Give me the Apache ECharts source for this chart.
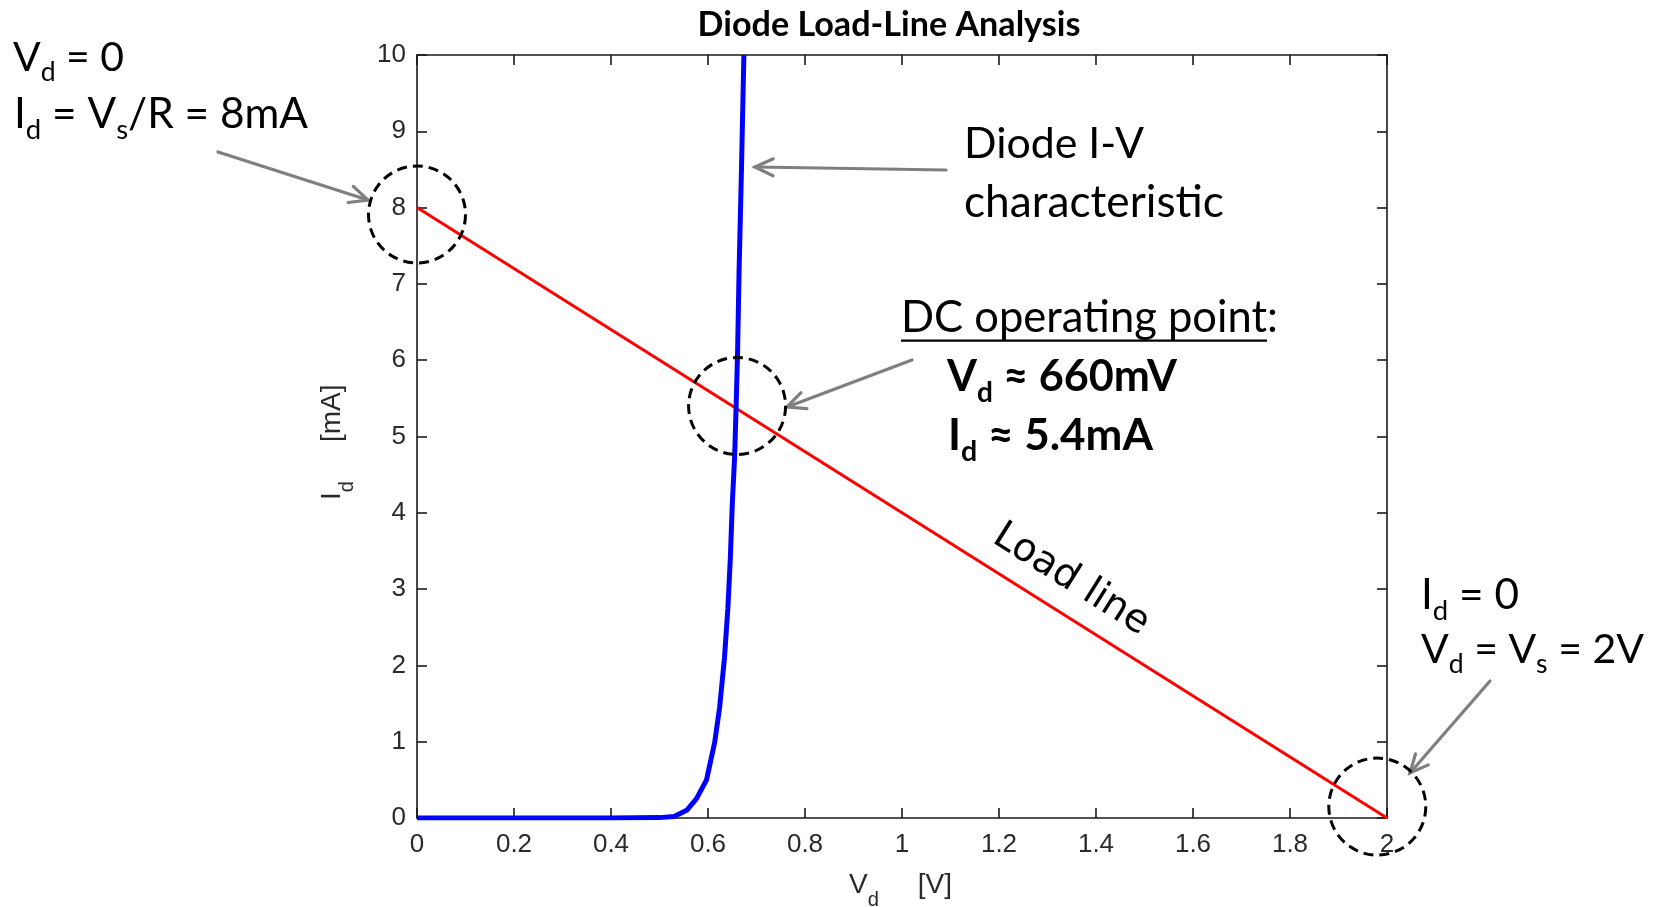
<!DOCTYPE html>
<html>
<head>
<meta charset="utf-8">
<script src="https://cdn.jsdelivr.net/npm/echarts@6/dist/echarts.min.js"></script>
<style>
  html, body { margin: 0; padding: 0; background: #ffffff; }
  #chart { width: 1663px; height: 907px; }
</style>
</head>
<body>
<div id="chart"></div>
<script>
// ---- Axis ticks ----
const xTicks = [0, 0.2, 0.4, 0.6, 0.8, 1, 1.2, 1.4, 1.6, 1.8, 2];
const yTicks = [0, 1, 2, 3, 4, 5, 6, 7, 8, 9, 10];

// ---- Diode I-V characteristic (V in volts, I in mA) ----
const diodeV = [0, 0.1, 0.2, 0.3, 0.4, 0.5, 0.53, 0.556, 0.576, 0.597, 0.614, 0.624,
                0.634, 0.641, 0.646, 0.650, 0.655, 0.658, 0.661, 0.664, 0.669, 0.674];
const diodeI = [0, 0, 0, 0, 0, 0.005, 0.02, 0.1, 0.25, 0.5, 1.0, 1.45,
                2.1, 2.75, 3.4, 4.1, 4.75, 5.4, 6.1, 7.15, 8.5, 10];

// ---- Load line: Vs = 2 V, Vs/R = 8 mA ----
const loadV = [0, 2];
const loadI = [8, 0];

// ---- Circled points (V, mA) ----
const markV = [0, 0.66, 1.98];
const markI = [7.91, 5.4, 0.15];

// ---- Layout / style ----
const GRID = { left: 417, top: 55, right: 276, bottom: 89 };
const AXIS_COLOR = '#1a1a1a';
const TICK_FONT = 'Liberation Sans';
const NOTE_FONT = 'Lato';
const GRAY = '#7f7f7f';

const chart = echarts.init(document.getElementById('chart'), null, { renderer: 'canvas' });

function fmtTick(v) { return String(+v.toFixed(1)); }

function valueAxis(ticks, position, showLabels, labelMargin) {
  return {
    type: 'value',
    position: position,
    min: ticks[0],
    max: ticks[ticks.length - 1],
    interval: ticks[1] - ticks[0],
    axisLine: { show: true, onZero: false, lineStyle: { color: AXIS_COLOR, width: 1.6 } },
    axisTick: { show: true, inside: true, length: 10, lineStyle: { color: AXIS_COLOR, width: 1.6 } },
    axisLabel: {
      show: showLabels, margin: labelMargin, formatter: fmtTick,
      fontFamily: TICK_FONT, fontSize: 26, color: '#2a2a2a'
    },
    splitLine: { show: false },
    axisPointer: { show: false }
  };
}

const option = {
  animation: false,
  backgroundColor: '#ffffff',
  grid: Object.assign({ containLabel: false, outerBoundsMode: 'none' }, GRID),
  xAxis: [valueAxis(xTicks, 'bottom', true, 14), valueAxis(xTicks, 'top', false, 0)],
  yAxis: [valueAxis(yTicks, 'left', true, 11), valueAxis(yTicks, 'right', false, 0)],
  series: [
    {
      name: 'Load line', type: 'line', xAxisIndex: 0, yAxisIndex: 0,
      data: loadV.map((v, i) => [v, loadI[i]]),
      symbol: 'none', lineStyle: { color: '#ff0000', width: 3 }, z: 2
    },
    {
      name: 'Diode I-V', type: 'line', xAxisIndex: 0, yAxisIndex: 0,
      data: diodeV.map((v, i) => [v, diodeI[i]]),
      symbol: 'none', lineStyle: { color: '#0000ff', width: 5 }, z: 3
    }
  ]
};
chart.setOption(option);

// ---- Text helpers ----
const ctx = document.createElement('canvas').getContext('2d');
function fontStr(weight, size, family) { return weight + ' ' + size + 'px "' + family + '"'; }
function textWidth(str, font) { ctx.font = font; return ctx.measureText(str).width; }
// distance from canvas "middle" line down to the alphabetic baseline
function midToBase(font) {
  ctx.font = font;
  ctx.textBaseline = 'alphabetic';
  const a = ctx.measureText('H').actualBoundingBoxAscent;
  ctx.textBaseline = 'middle';
  const m = ctx.measureText('H').actualBoundingBoxAscent;
  ctx.textBaseline = 'alphabetic';
  return a - m;
}
function fitSize(str, weight, family, target) {
  return 100 * target / textWidth(str, fontStr(weight, 100, family));
}
// width of a line of segments at a given main size
function lineWidth(segs, o, size) {
  let w = 0;
  segs.forEach(function (s) {
    const sz = s[1] ? size * o.subScale : size;
    w += textWidth(s[0], fontStr(o.weight, sz, o.family));
  });
  return w;
}

// Lays out one line of text with optional subscripts; (x, y) is the start of the baseline.
function textLine(segs, x, y, o) {
  const rot = o.rot || 0;
  const ux = Math.cos(rot), uy = -Math.sin(rot);   // along the text
  const nx = Math.sin(rot), ny = Math.cos(rot);    // towards the text's bottom
  const els = [];
  let cur = 0;
  segs.forEach(function (s) {
    const sub = !!s[1];
    const size = sub ? o.size * o.subScale : o.size;
    const font = fontStr(o.weight, size, o.family);
    const w = textWidth(s[0], font);
    const shift = sub ? o.size * o.subShift : 0;
    const px = x + ux * cur + nx * shift;
    const py = y + uy * cur + ny * shift;
    els.push({
      type: 'text', x: px, y: py, rotation: rot, silent: true, z: 100,
      style: {
        text: s[0], x: 0, y: -midToBase(font),
        fontFamily: o.family, fontSize: size, fontWeight: o.weight,
        fill: o.color, align: 'left', verticalAlign: 'middle',
        textAlign: 'left', textVerticalAlign: 'middle'
      }
    });
    if (s[2] === 'u') {
      const uOff = o.size * 0.2;
      els.push({
        type: 'line', silent: true, z: 100,
        shape: { x1: px + nx * uOff, y1: py + ny * uOff,
                 x2: px + ux * w + nx * uOff, y2: py + uy * w + ny * uOff },
        style: { stroke: o.color, lineWidth: 2.2 }
      });
    }
    cur += w;
  });
  return els;
}

function arrow(from, to) {
  const ang = Math.atan2(to[1] - from[1], to[0] - from[0]);
  const len = 20, spread = 25 * Math.PI / 180;
  const a1 = [to[0] - len * Math.cos(ang - spread), to[1] - len * Math.sin(ang - spread)];
  const a2 = [to[0] - len * Math.cos(ang + spread), to[1] - len * Math.sin(ang + spread)];
  const st = { stroke: GRAY, lineWidth: 3.2, fill: null, lineCap: 'round', lineJoin: 'miter' };
  return [
    { type: 'polyline', silent: true, z: 90, shape: { points: [from, to] }, style: st },
    { type: 'polyline', silent: true, z: 90, shape: { points: [a1, to, a2] }, style: st }
  ];
}

const elements = [];

// Title
const titleSize = fitSize('Diode Load-Line Analysis', 'bold', NOTE_FONT, 383);
const titleFont = fontStr('bold', titleSize, NOTE_FONT);
elements.push({
  type: 'text', x: 889, y: 36, silent: true,
  style: {
    text: 'Diode Load-Line Analysis', x: 0, y: -midToBase(titleFont),
    fontFamily: NOTE_FONT, fontSize: titleSize, fontWeight: 'bold', fill: '#000',
    align: 'center', verticalAlign: 'middle', textAlign: 'center', textVerticalAlign: 'middle'
  }
});

// Axis names
const axisNameStyle = { family: TICK_FONT, size: 28, weight: 'normal', color: '#2a2a2a',
                        subScale: 0.72, subShift: 0.46 };
elements.push.apply(elements, textLine([['V'], ['d', 1], ['     [V]']], 849, 893, axisNameStyle));
elements.push.apply(elements, textLine([['I'], ['d', 1], ['     [mA]']], 340, 500,
  Object.assign({ rot: Math.PI / 2 }, axisNameStyle)));

// Annotations: each line is sized to its own width (w)
const reg = { family: NOTE_FONT, weight: 'normal', color: '#000', subScale: 0.65, subShift: 0.25 };
const bold = Object.assign({}, reg, { weight: 'bold' });
const notes = [
  { x: 13, y: 71, w: 111, st: reg, segs: [['V'], ['d', 1], [' = 0']] },
  { x: 14, y: 128, w: 294, st: reg, segs: [['I'], ['d', 1], [' = V'], ['s', 1], ['/R = 8mA']] },
  { x: 964, y: 158, w: 180, st: reg, segs: [['Diode I-V']] },
  { x: 964, y: 217, w: 260, st: reg, segs: [['characteristic']] },
  { x: 901, y: 332, w: 377, st: reg, segs: [['DC operating point', 0, 'u'], [':']] },
  { x: 947, y: 391, w: 230, st: bold, segs: [['V'], ['d', 1], [' \u2248 660mV']] },
  { x: 948, y: 450, w: 205, st: bold, segs: [['I'], ['d', 1], [' \u2248 5.4mA']] },
  { x: 1421, y: 609, w: 98, st: reg, segs: [['I'], ['d', 1], [' = 0']] },
  { x: 1421, y: 663, w: 223, st: reg, segs: [['V'], ['d', 1], [' = V'], ['s', 1], [' = 2V']] }
];
notes.forEach(function (n) {
  const size = 100 * n.w / lineWidth(n.segs, n.st, 100);
  const st = Object.assign({}, n.st, { size: size });
  elements.push.apply(elements, textLine(n.segs, n.x, n.y, st));
});

// "Load line" label, turned to follow the red line
const p0 = chart.convertToPixel({ seriesIndex: 0 }, [loadV[0], loadI[0]]);
const p1 = chart.convertToPixel({ seriesIndex: 0 }, [loadV[1], loadI[1]]);
const lineRot = -Math.atan2(p1[1] - p0[1], p1[0] - p0[0]);
elements.push({
  type: 'text', x: 1071, y: 580, rotation: lineRot, silent: true, z: 100,
  style: {
    text: 'Load line', x: 0, y: 0,
    fontFamily: 'DejaVu Sans', fontSize: 39, fill: '#000',
    align: 'center', verticalAlign: 'middle', textAlign: 'center', textVerticalAlign: 'middle'
  }
});

// Dashed circles around the points of interest
markV.forEach(function (v, i) {
  const c = chart.convertToPixel({ seriesIndex: 0 }, [v, markI[i]]);
  elements.push({
    type: 'circle', silent: true, z: 95,
    shape: { cx: c[0], cy: c[1], r: 48.5 },
    style: { fill: null, stroke: '#000', lineWidth: 3, lineDash: [10, 6] }
  });
});

// Call-out arrows
[
  [[218, 152], [368, 200]],
  [[946, 170], [755, 167]],
  [[912, 360], [787, 407]],
  [[1490, 681], [1410, 773]]
].forEach(function (a) { elements.push.apply(elements, arrow(a[0], a[1])); });

chart.setOption({ graphic: { elements: elements } });
</script>
</body>
</html>
